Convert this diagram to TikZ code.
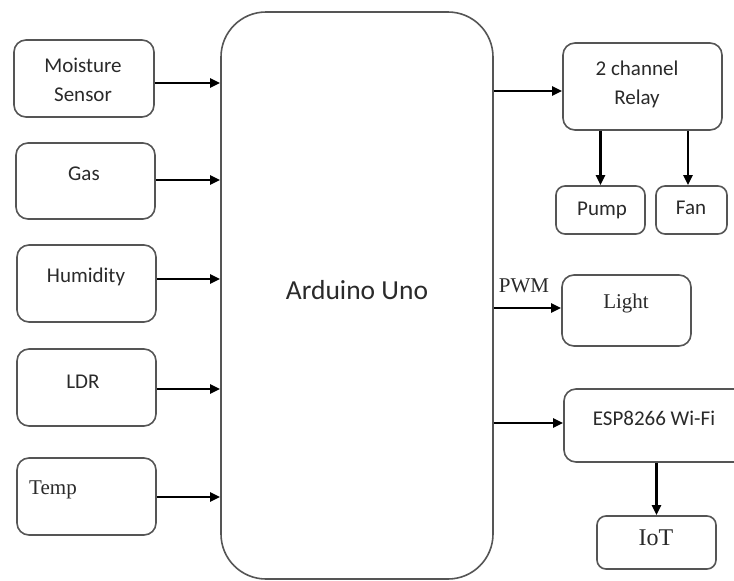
\documentclass[tikz,border=0pt]{standalone}
\usepackage{fontspec}
\setmainfont{Liberation Serif}
\newfontfamily\carlitofont{Carlito}
\usetikzlibrary{arrows.meta,calc}
\definecolor{boxc}{HTML}{555555}
\definecolor{txt}{HTML}{2A2A2A}
\begin{document}
\begin{tikzpicture}[x=1pt,y=-1pt,
  blk/.style={draw=boxc,line width=1.6pt,rounded corners=12pt,inner sep=0pt,fill=white},
  big/.style={draw=boxc,line width=1.6pt,rounded corners=45pt,inner sep=0pt},
  sans/.style={font=\carlitofont\fontsize{21}{29}\selectfont,text=txt,inner sep=0pt,align=center},
  serif/.style={font=\fontsize{21}{25}\selectfont,text=txt,inner sep=0pt},
  arr/.style={line width=2.4pt,-{Triangle[length=10pt,width=9pt]}}]
\clip (0,0) rectangle (734,581);
\fill[white] (0,0) rectangle (734,581);
% main box
\node[big,minimum width=272pt,minimum height=567pt] (ard) at (357,295.5) {};
\node[font=\carlitofont\fontsize{27.5}{30}\selectfont,text=txt,inner sep=0pt] (ardt) at (357,290) {Arduino Uno};
% left boxes
\node[blk,minimum width=140pt,minimum height=77pt] (moist) at (84,78.5) {};
\node[blk,minimum width=139pt,minimum height=76pt] (gas) at (85.5,181) {};
\node[blk,minimum width=139pt,minimum height=77pt] (hum) at (86.5,283.5) {};
\node[blk,minimum width=139pt,minimum height=77pt] (ldr) at (86.5,387.5) {};
\node[blk,minimum width=139pt,minimum height=77pt] (temp) at (86.5,496.5) {};
\node[sans] (moistt) at (83,80) {Moisture\\Sensor};
\node[sans] (gast) at (84,174) {Gas};
\node[sans] (humt) at (86,277) {Humidity};
\node[sans] (ldrt) at (83,382) {LDR};
\node[serif] (tempt) at (53,490) {Temp};
% right boxes
\node[blk,minimum width=159pt,minimum height=87pt] (relay) at (642.5,86.5) {};
\node[blk,minimum width=89pt,minimum height=48pt,rounded corners=9pt] (pump) at (600.5,210) {};
\node[blk,minimum width=71pt,minimum height=48pt,rounded corners=9pt] (fan) at (691.5,210) {};
\node[blk,minimum width=129pt,minimum height=71pt] (light) at (626.5,310.5) {};
\node[blk,minimum width=196pt,minimum height=73pt] (esp) at (662,425.5) {};
\node[blk,minimum width=119pt,minimum height=53pt,rounded corners=9pt] (iot) at (656.5,542.5) {};
\node[sans] (relayt) at (637,84) {2 channel\\Relay};
\node[sans] (pumpt) at (602,210) {Pump};
\node[sans] (fant) at (691,208) {Fan};
\node[serif] (lightt) at (626,303) {Light};
\node[sans] (espt) at (654,418) {ESP8266 Wi-Fi};
\node[serif,font=\fontsize{24}{27}\selectfont] (iott) at (656,538) {IoT};
\node[serif] (pwm) at (524,286) {PWM};
% left arrows
\coordinate (a1) at ([yshift=-4.5pt]moist.east);
\coordinate (a2) at ([yshift=1pt]gas.east);
\coordinate (a3) at ([yshift=4.5pt]hum.east);
\coordinate (a4) at ([yshift=-1.5pt]ldr.east);
\coordinate (a5) at ([yshift=-0.5pt]temp.east);
\foreach \c in {a1,a2,a3,a4,a5}{\draw[arr] (\c) -- (\c -| ard.west);}
% right arrows
\coordinate (b1) at ([yshift=-4.5pt]relay.west);
\coordinate (b2) at ([yshift=2.5pt]light.west);
\coordinate (b3) at ([yshift=2.5pt]esp.west);
\foreach \c in {b1,b2,b3}{\draw[arr] (\c -| ard.east) -- (\c);}
\draw[arr] (relay.south -| pump.north) -- (pump.north);
\coordinate (f1) at ([xshift=-3.5pt]fan.north);
\draw[arr] (f1 |- relay.south) -- (f1);
\draw[arr] (esp.south -| iot.north) -- (iot.north);
\end{tikzpicture}
\end{document}
